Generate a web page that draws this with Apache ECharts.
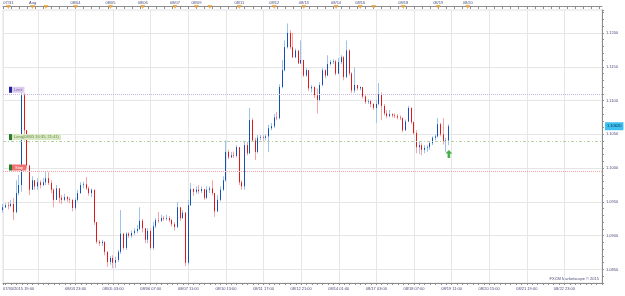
<!DOCTYPE html>
<html>
<head>
<meta charset="utf-8">
<script src="https://cdn.jsdelivr.net/npm/echarts@6/dist/echarts.min.js"></script>
<style>
  html, body { margin: 0; padding: 0; background: #fff; }
  #chart { width: 625px; height: 296px; }
</style>
</head>
<body>
<div id="chart"></div>
<script>
// EUR/USD 2h bars
var firstOpen = 1.0938;
var closes = [
  1.0942, 1.0945, 1.0944, 1.0947, 1.0935, 1.0963, 1.0975, 1.1108, 1.1056, 1.1004,
  1.0968, 1.0982, 1.0973, 1.0979, 1.0975, 1.0979, 1.0985, 1.0978, 1.0968, 1.0953,
  1.0970, 1.0956, 1.0953, 1.0957, 1.0954, 1.0953, 1.0941, 1.0953, 1.0963, 1.0975,
  1.0976, 1.0970, 1.0963, 1.0968, 1.0920, 1.0891, 1.0889, 1.0891, 1.0876, 1.0861,
  1.0867, 1.0860, 1.0864, 1.0876, 1.0903, 1.0882, 1.0903, 1.0900, 1.0904, 1.0907,
  1.0910, 1.0922, 1.0911, 1.0894, 1.0907, 1.0882, 1.0914, 1.0923, 1.0922, 1.0926,
  1.0925, 1.0926, 1.0923, 1.0917, 1.0913, 1.0942, 1.0926, 1.0934, 1.0860, 1.0945,
  1.0969, 1.0965, 1.0968, 1.0966, 1.0969, 1.0956, 1.0968, 1.0970, 1.0963, 1.0936,
  1.0953, 1.0968, 1.0982, 1.1024, 1.1016, 1.1019, 1.1018, 1.1031, 1.0979, 1.0973,
  1.1034, 1.1022, 1.1071, 1.1041, 1.1024, 1.1045, 1.1046, 1.1045, 1.1047, 1.1059,
  1.1062, 1.1075, 1.1074, 1.1120, 1.1145, 1.1179, 1.1200, 1.1179, 1.1164, 1.1174,
  1.1155, 1.1160, 1.1137, 1.1145, 1.1118, 1.1120, 1.1108, 1.1101, 1.1123, 1.1145,
  1.1137, 1.1154, 1.1157, 1.1158, 1.1140, 1.1157, 1.1164, 1.1135, 1.1174, 1.1140,
  1.1115, 1.1123, 1.1118, 1.1120, 1.1106, 1.1098, 1.1099, 1.1095, 1.1089, 1.1095,
  1.1109, 1.1092, 1.1081, 1.1077, 1.1080, 1.1078, 1.1077, 1.1075, 1.1074, 1.1056,
  1.1069, 1.1089, 1.1068, 1.1052, 1.1031, 1.1034, 1.1027, 1.1030, 1.1031, 1.1037,
  1.1045, 1.1047, 1.1065, 1.1050, 1.1040, 1.1041, 1.1062
];
var highs = [
  1.0947, 1.0948, 1.0950, 1.0953, 1.0956, 1.0982, 1.0990, 1.1115, 1.1111, 1.1056,
  1.1004, 1.0988, 1.0982, 1.0985, 1.0982, 1.0985, 1.0994, 1.0994, 1.0982, 1.0970,
  1.0975, 1.0970, 1.0960, 1.0962, 1.0959, 1.0957, 1.0954, 1.0956, 1.0968, 1.0979,
  1.0980, 1.0987, 1.0973, 1.0970, 1.0968, 1.0920, 1.0894, 1.0894, 1.0891, 1.0877,
  1.0870, 1.0871, 1.0869, 1.0879, 1.0938, 1.0904, 1.0905, 1.0905, 1.0908, 1.0911,
  1.0916, 1.0942, 1.0925, 1.0911, 1.0911, 1.0911, 1.0920, 1.0926, 1.0935, 1.0931,
  1.0929, 1.0931, 1.0929, 1.0925, 1.0920, 1.0950, 1.0942, 1.0938, 1.0935, 1.0953,
  1.0978, 1.0970, 1.0973, 1.0975, 1.0973, 1.0969, 1.0973, 1.0973, 1.0982, 1.0963,
  1.0960, 1.0973, 1.0988, 1.1041, 1.1027, 1.1024, 1.1024, 1.1034, 1.1031, 1.0982,
  1.1039, 1.1039, 1.1089, 1.1074, 1.1045, 1.1049, 1.1049, 1.1049, 1.1050, 1.1064,
  1.1067, 1.1080, 1.1083, 1.1124, 1.1160, 1.1189, 1.1214, 1.1204, 1.1200, 1.1177,
  1.1174, 1.1189, 1.1160, 1.1148, 1.1145, 1.1123, 1.1121, 1.1118, 1.1127, 1.1148,
  1.1146, 1.1167, 1.1160, 1.1161, 1.1160, 1.1163, 1.1167, 1.1166, 1.1189, 1.1176,
  1.1142, 1.1149, 1.1123, 1.1121, 1.1120, 1.1108, 1.1102, 1.1101, 1.1096, 1.1101,
  1.1126, 1.1112, 1.1095, 1.1086, 1.1086, 1.1081, 1.1081, 1.1080, 1.1078, 1.1075,
  1.1072, 1.1092, 1.1090, 1.1069, 1.1056, 1.1040, 1.1037, 1.1034, 1.1034, 1.1039,
  1.1047, 1.1050, 1.1074, 1.1067, 1.1074, 1.1045, 1.1065
];
var lows = [
  1.0934, 1.0941, 1.0939, 1.0942, 1.0923, 1.0933, 1.0960, 1.0965, 1.1041, 1.1000,
  1.0960, 1.0968, 1.0968, 1.0968, 1.0970, 1.0973, 1.0975, 1.0975, 1.0963, 1.0942,
  1.0953, 1.0948, 1.0947, 1.0951, 1.0950, 1.0948, 1.0936, 1.0938, 1.0951, 1.0962,
  1.0970, 1.0968, 1.0959, 1.0957, 1.0916, 1.0888, 1.0885, 1.0885, 1.0871, 1.0854,
  1.0857, 1.0852, 1.0852, 1.0861, 1.0873, 1.0879, 1.0879, 1.0897, 1.0897, 1.0901,
  1.0904, 1.0908, 1.0905, 1.0889, 1.0889, 1.0879, 1.0879, 1.0911, 1.0919, 1.0920,
  1.0922, 1.0922, 1.0920, 1.0914, 1.0908, 1.0911, 1.0922, 1.0925, 1.0855, 1.0857,
  1.0944, 1.0959, 1.0962, 1.0962, 1.0963, 1.0953, 1.0954, 1.0963, 1.0960, 1.0928,
  1.0935, 1.0951, 1.0966, 1.0980, 1.1013, 1.1015, 1.1015, 1.1016, 1.0975, 1.0968,
  1.0968, 1.1019, 1.1021, 1.1039, 1.1012, 1.1022, 1.1041, 1.1040, 1.1041, 1.1024,
  1.1056, 1.1059, 1.1071, 1.1072, 1.1118, 1.1143, 1.1177, 1.1176, 1.1163, 1.1163,
  1.1154, 1.1154, 1.1135, 1.1135, 1.1114, 1.1112, 1.1104, 1.1081, 1.1099, 1.1121,
  1.1133, 1.1136, 1.1152, 1.1154, 1.1137, 1.1139, 1.1154, 1.1130, 1.1133, 1.1137,
  1.1111, 1.1111, 1.1115, 1.1115, 1.1103, 1.1095, 1.1095, 1.1090, 1.1086, 1.1067,
  1.1093, 1.1071, 1.1078, 1.1074, 1.1075, 1.1075, 1.1074, 1.1072, 1.1071, 1.1053,
  1.1055, 1.1068, 1.1065, 1.1049, 1.1022, 1.1021, 1.1019, 1.1022, 1.1024, 1.1027,
  1.1034, 1.1041, 1.1045, 1.1047, 1.1035, 1.1024, 1.1034
];

var slotCount = 224; // 2h slots from 07/30 19:00 to past 08/22 23:00

var bottomTickIdx = [0, 27, 41, 55, 69, 83, 97, 111, 125, 139, 153, 167, 181, 195, 209];
var bottomTickLabels = ['07/30/2015 19:00', '08/03 23:00', '08/05 03:00', '08/06 07:00', '08/07 11:00',
  '08/10 13:00', '08/11 17:00', '08/12 21:00', '08/14 01:00', '08/17 03:00', '08/18 07:00',
  '08/19 11:00', '08/20 15:00', '08/21 19:00', '08/22 23:00'];
var gridIdx = [0, 13, 27, 41, 55, 69, 83, 97, 111, 125, 139, 153, 167, 181, 195, 209];

var topTickIdx = [2, 11, 27, 40, 52, 64, 72, 88, 101, 112, 124, 133, 149, 162, 173];
var topTickLabels = ['07/31', 'Aug', '08/04', '08/05', '08/06', '08/07', '08/09', '08/11',
  '08/12', '08/13', '08/14', '08/16', '08/18', '08/19', '08/20'];
var dayMarkIdx = [2, 11, 16, 27, 40, 52, 64, 72, 77, 88, 101, 112, 124, 133, 138, 149, 162, 173];

var yMin = 1.0830, yMax = 1.1234;
var limitPrice = 1.1110, entryPrice = 1.1040, stopPrice = 1.0995;
var arrowIdx = 166, arrowPrice = 1.1021;

var slots = [];
for (var i = 0; i < slotCount; i++) slots.push(String(i));

var wickRows = [], bodyRows = [];
for (var k = 0; k < closes.length; k++) {
  var o = k === 0 ? firstOpen : closes[k - 1];
  var c = closes[k];
  wickRows.push([o, c, lows[k], highs[k]]);
  bodyRows.push([o, c, Math.min(o, c), Math.max(o, c)]);
}

var labelAt = function (idxs, labels) {
  var m = {};
  idxs.forEach(function (v, j) { m[v] = labels[j]; });
  return m;
};
var bottomLabelAt = labelAt(bottomTickIdx, bottomTickLabels);
var topLabelAt = labelAt(topTickIdx, topTickLabels);

var txt = '#4a4a7a';
var axisCol = '#8c8c8c';
var font = 'Liberation Sans';
var clear = 'rgba(0,0,0,0)';

var chart = echarts.init(document.getElementById('chart'));
chart.setOption({
  animation: false,
  backgroundColor: '#fff',
  textStyle: { fontFamily: font },
  grid: { left: 0, right: 23, top: 10, bottom: 13, show: true, borderColor: '#e2e2e2', borderWidth: 1 },
  xAxis: [
    {
      type: 'category', data: slots, boundaryGap: false, position: 'bottom',
      axisLine: { lineStyle: { color: axisCol } },
      axisTick: {
        length: 2, lineStyle: { color: axisCol },
        interval: function (i) { return i % 2 === 1 || bottomLabelAt[i] !== undefined; }
      },
      axisLabel: {
        fontSize: 4, color: txt, margin: 4, fontFamily: font, alignMinLabel: 'left',
        interval: function (i) { return bottomLabelAt[i] !== undefined; },
        formatter: function (v) { return bottomLabelAt[+v] || ''; }
      },
      splitLine: {
        show: true, lineStyle: { color: '#e6e6e6' },
        interval: function (i) { return gridIdx.indexOf(i) >= 0; }
      }
    },
    {
      type: 'category', data: slots, boundaryGap: false, position: 'top', offset: 4,
      axisLine: { lineStyle: { color: axisCol } },
      axisTick: {
        inside: true, length: 3, lineStyle: { color: axisCol },
        interval: function (i) { return i % 3 === 0; }
      },
      axisLabel: {
        fontSize: 4, color: txt, margin: 1, fontFamily: font,
        interval: function (i) { return topLabelAt[i] !== undefined; },
        formatter: function (v) { return topLabelAt[+v] || ''; }
      },
      splitLine: { show: false }
    }
  ],
  yAxis: {
    type: 'value', position: 'right', min: yMin, max: yMax, interval: 0.001,
    axisLine: { show: true, lineStyle: { color: axisCol } },
    axisTick: { show: true, length: 2, lineStyle: { color: axisCol } },
    axisLabel: {
      fontSize: 4, color: txt, margin: 4, fontFamily: font,
      formatter: function (v) {
        return Math.round(v * 10000) % 50 === 0 ? v.toFixed(4) : '';
      }
    },
    splitLine: {
      show: true,
      lineStyle: { color: [clear, clear, '#e6e6e6', clear, clear] }
    }
  },
  series: [
    {
      name: 'wick', type: 'candlestick', data: wickRows, barWidth: 1,
      itemStyle: {
        color: '#9cc2ee', color0: '#f5a5a5',
        borderColor: '#9cc2ee', borderColor0: '#f5a5a5', borderWidth: 1
      },
      markLine: {
        silent: true, symbol: 'none', precision: 5,
        data: [
          {
            yAxis: limitPrice,
            lineStyle: { color: '#c9b9e6', type: 'dotted', width: 1 },
            label: {
              formatter: '{sq|}{t|Limit}',
              rich: {
                sq: { width: 3, height: 6, backgroundColor: '#2323a0' },
                t: { backgroundColor: '#dccdee', color: '#8a6ab0', fontSize: 4, padding: [1, 2], height: 4 }
              }
            }
          },
          {
            yAxis: entryPrice,
            lineStyle: { color: '#b2d2a6', type: [3, 2, 1, 2], width: 1 },
            label: {
              formatter: '{sq|}{t|Long(08/05 16:35, 21:41)}',
              rich: {
                sq: { width: 3, height: 6, backgroundColor: '#2b7a2b' },
                t: { backgroundColor: '#d8e9c4', color: '#6a8a4a', fontSize: 4, padding: [1, 2], height: 4 }
              }
            }
          },
          {
            yAxis: stopPrice,
            lineStyle: { color: '#f2a4a4', type: 'dotted', width: 1 },
            label: {
              formatter: '{sq|}{t|Stop}',
              rich: {
                sq: { width: 3, height: 6, backgroundColor: '#2b7a2b' },
                t: { backgroundColor: '#ee7070', color: '#fff', fontSize: 4, padding: [1, 3], height: 4 }
              }
            }
          }
        ],
        label: { show: true, position: 'insideStartTop', distance: [6, 1] }
      }
    },
    {
      name: 'body', type: 'candlestick', data: bodyRows, barWidth: 1,
      itemStyle: {
        color: '#1450b4', color0: '#e01818',
        borderColor: '#1450b4', borderColor0: '#e01818', borderWidth: 1
      },
      markLine: {
        silent: true, symbol: 'none', precision: 5,
        lineStyle: { color: clear, width: 0 },
        data: [{ yAxis: closes[closes.length - 1] }],
        label: {
          show: true, position: 'end', distance: 3,
          backgroundColor: '#3fc0f2', color: '#06304a', fontSize: 4, padding: [2, 2],
          formatter: function (p) { return p.value.toFixed(5); }
        }
      }
    },
    {
      name: 'signal', type: 'scatter', xAxisIndex: 0,
      data: [[arrowIdx, arrowPrice]],
      symbol: 'path://M4,0 L8,4 L5.5,4 L5.5,9 L2.5,9 L2.5,4 L0,4 Z',
      symbolSize: [7, 8],
      itemStyle: { color: '#1c9a1c' }
    },
    {
      name: 'days', type: 'scatter', xAxisIndex: 1, clip: false,
      data: dayMarkIdx.map(function (d) { return [d, yMax]; }),
      symbol: 'triangle', symbolRotate: 180, symbolSize: [5, 4], symbolOffset: [0, -3],
      itemStyle: { color: '#f0a030' }
    }
  ],
  graphic: [
    {
      type: 'text', right: 26, bottom: 15,
      style: { text: 'FXCM Marketscope \u00a9 2015', fontSize: 4, fill: txt, fontFamily: font }
    }
  ]
});
</script>
</body>
</html>
